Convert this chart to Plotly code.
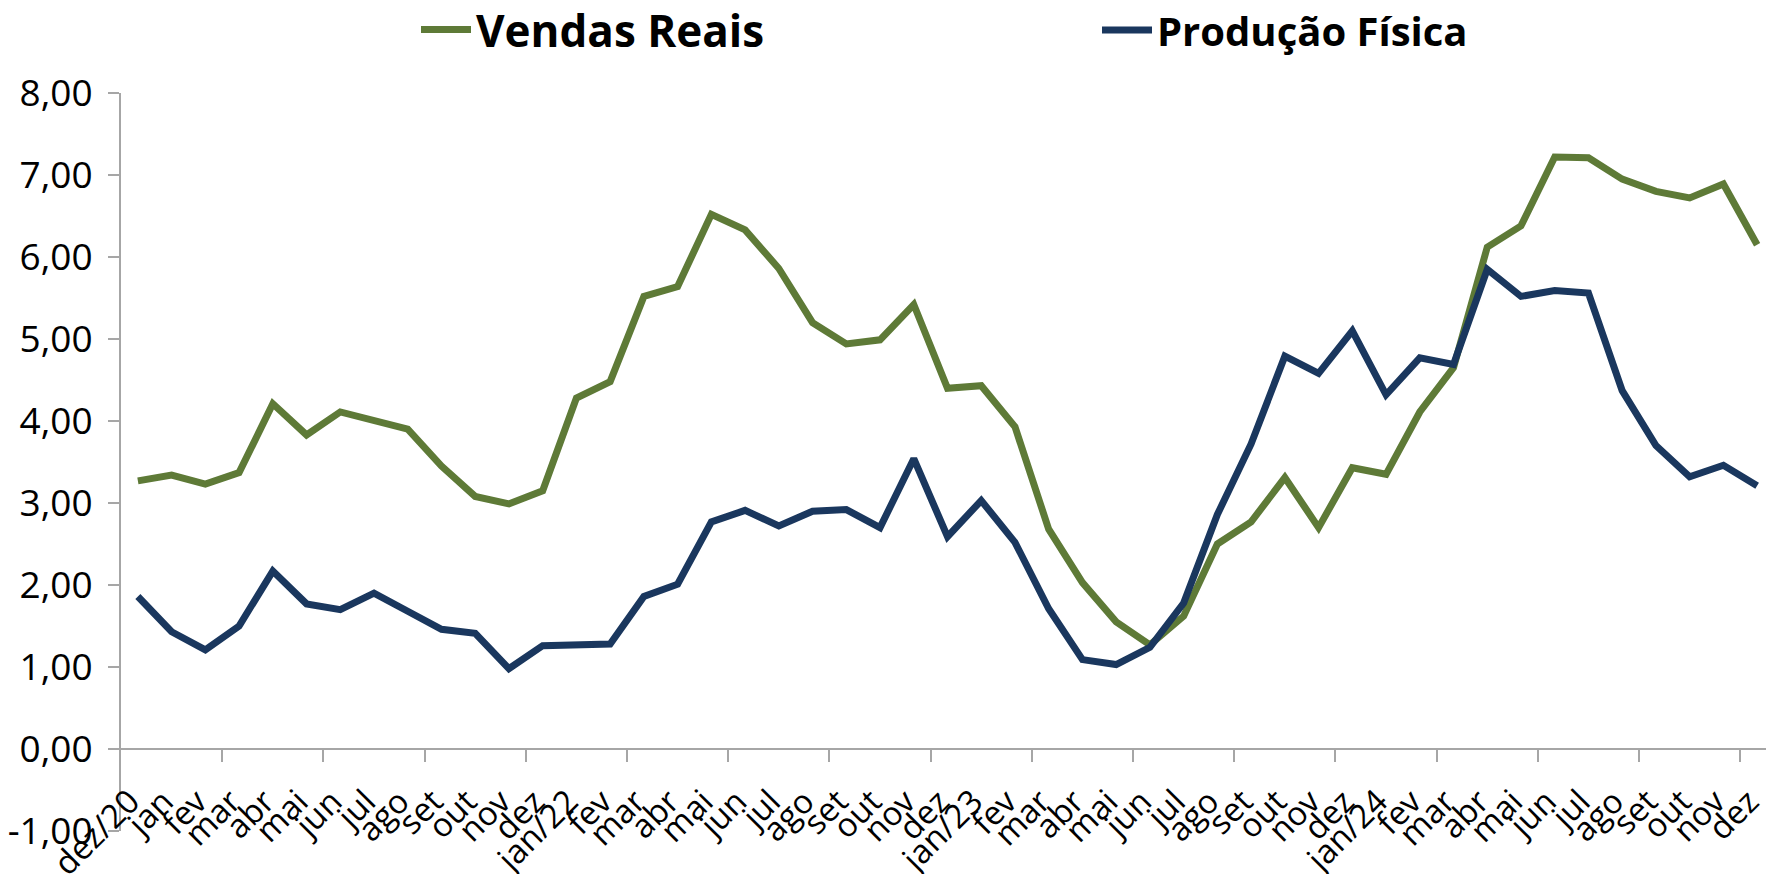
import plotly.graph_objects as go

categorias = ["dez/20", "jan", "fev", "mar", "abr", "mai", "jun", "jul", "ago", "set", "out", "nov", "dez",
              "jan/22", "fev", "mar", "abr", "mai", "jun", "jul", "ago", "set", "out", "nov", "dez",
              "jan/23", "fev", "mar", "abr", "mai", "jun", "jul", "ago", "set", "out", "nov", "dez",
              "jan/24", "fev", "mar", "abr", "mai", "jun", "jul", "ago", "set", "out", "nov", "dez"]

vendas_reais = [3.27, 3.34, 3.23, 3.37, 4.21, 3.83, 4.11, 4.01, 3.90, 3.45, 3.08, 2.99, 3.15,
                4.28, 4.48, 5.52, 5.64, 6.52, 6.33, 5.86, 5.20, 4.94, 4.99, 5.42, 4.40,
                4.43, 3.93, 2.68, 2.03, 1.55, 1.27, 1.62, 2.50, 2.77, 3.31, 2.70, 3.43,
                3.35, 4.11, 4.65, 6.12, 6.38, 7.22, 7.21, 6.95, 6.80, 6.72, 6.89, 6.15]

producao_fisica = [1.86, 1.43, 1.21, 1.50, 2.17, 1.77, 1.70, 1.90, 1.68, 1.46, 1.41, 0.98, 1.26,
                   1.26, 1.28, 1.86, 2.01, 2.77, 2.91, 2.72, 2.90, 2.92, 2.70, 3.54, 2.59,
                   3.03, 2.52, 1.71, 1.09, 1.03, 1.24, 1.78, 2.86, 3.72, 4.79, 4.58, 5.10,
                   4.32, 4.77, 4.69, 5.85, 5.52, 5.59, 5.56, 4.37, 3.70, 3.32, 3.46, 3.21]

y_ticks = [-1, 0, 1, 2, 3, 4, 5, 6, 7, 8]
y_ticktext = [f"{v:.2f}".replace(".", ",") for v in y_ticks]

VERDE = "#5E7A37"
AZUL = "#1A375E"
CINZA = "#A6A6A6"
FONTE = "Open Sans"

idx = list(range(len(categorias)))
n = len(categorias)
marcas = [i + 2.5 for i in range(0, n - 3, 3)]

# page has an 8px body margin: figure is sized so it fits the 1774x874 window
W, H = 1766, 866
ML, MR, MT, MB = 113, 0, 85, 43
pw = W - ML - MR
ph = H - MT - MB

fig = go.Figure()
fig.add_trace(go.Scatter(x=idx, y=vendas_reais, name="Vendas Reais", mode="lines",
                         line=dict(color=VERDE, width=7), xaxis="x", legend="legend",
                         showlegend=True))
fig.add_trace(go.Scatter(x=idx, y=producao_fisica, name="Produção Física", mode="lines",
                         line=dict(color=AZUL, width=7), xaxis="x2", legend="legend2",
                         showlegend=True))

pos0 = (0 - y_ticks[0]) / (y_ticks[-1] - y_ticks[0])
leg_y = 1 + (MT - 22) / ph

fig.update_layout(
    width=W, height=H,
    margin=dict(l=ML, r=MR, t=MT, b=MB, autoexpand=False),
    showlegend=True,
    plot_bgcolor="white", paper_bgcolor="white",
    font=dict(family=FONTE, color="black"),
    xaxis=dict(range=[-0.5, n - 0.5], tickvals=idx, ticktext=categorias, tickangle=-45,
               tickfont=dict(size=33, family=FONTE, color="black"), ticks="",
               showline=True, linecolor=CINZA, linewidth=2, showgrid=False, zeroline=False,
               anchor="free", position=pos0, automargin=False, ticklabelstandoff=19,
               ticklabelshift=-8, ticklabeloverflow="allow"),
    xaxis2=dict(range=[-0.5, n - 0.5], overlaying="x", tickvals=marcas, ticks="outside",
                ticklen=12, tickwidth=2, tickcolor=CINZA, showticklabels=False,
                showline=False, showgrid=False, zeroline=False, anchor="free", position=pos0,
                side="bottom"),
    yaxis=dict(range=[y_ticks[0], y_ticks[-1]], tickvals=y_ticks, ticktext=y_ticktext,
               tickfont=dict(size=37, family=FONTE, color="black"), ticks="outside",
               ticklen=11, tickwidth=2, tickcolor=CINZA, showline=True, linecolor=CINZA,
               linewidth=2, showgrid=False, zeroline=False, automargin=False,
               ticklabelstandoff=8),
    legend=dict(orientation="h", x=(408 - ML) / pw, xanchor="left",
                y=leg_y, yanchor="middle", itemwidth=50,
                font=dict(size=44, family=FONTE, color="black", weight="bold"),
                bgcolor="rgba(0,0,0,0)"),
    legend2=dict(orientation="h", x=(1089 - ML) / pw, xanchor="left",
                 y=leg_y, yanchor="middle", itemwidth=50,
                 font=dict(size=40, family=FONTE, color="black", weight="bold"),
                 bgcolor="rgba(0,0,0,0)"),
)

fig.write_html("out.html")
